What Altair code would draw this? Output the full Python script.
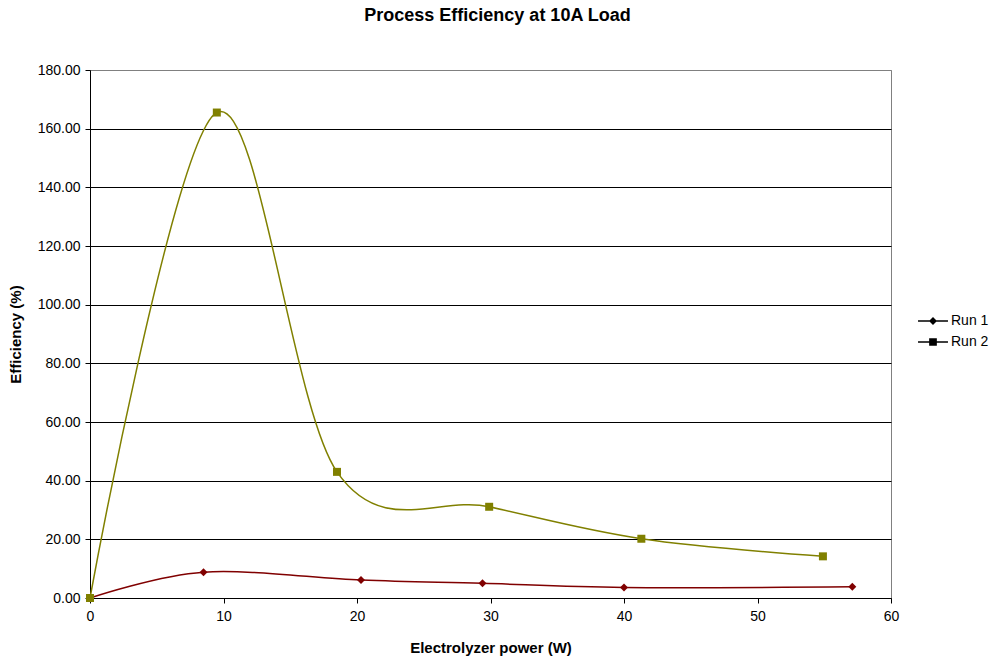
import altair as alt
import pandas as pd

series_names = ["Run 1", "Run 2"]
series_colors = ["#800000", "#808000"]

run1_x = [0, 8.5, 20.3, 29.4, 40.0, 57.1]
run1_y = [0, 8.8, 6.1, 5.0, 3.6, 3.8]
run2_x = [0, 9.5, 18.5, 29.9, 41.3, 54.9]
run2_y = [0, 165.5, 43.0, 31.1, 20.2, 14.2]

x_ticks = [0, 10, 20, 30, 40, 50, 60]
y_ticks = [0, 20, 40, 60, 80, 100, 120, 140, 160, 180]

rows = []
for i, (x, y) in enumerate(zip(run1_x, run1_y)):
    rows.append({"series": "Run 1", "power": x, "eff": y, "order": i})
for i, (x, y) in enumerate(zip(run2_x, run2_y)):
    rows.append({"series": "Run 2", "power": x, "eff": y, "order": i})
df = pd.DataFrame(rows)

FONT = "Liberation Sans"

xenc = alt.X("power:Q", scale=alt.Scale(domain=[0, 60], nice=False),
             axis=alt.Axis(values=x_ticks, format="d", title="Electrolyzer power (W)",
                           grid=False, domainColor="#000", tickColor="#000",
                           tickSize=5, labelPadding=6, titlePadding=17, labelFlush=False))
yenc = alt.Y("eff:Q", scale=alt.Scale(domain=[0, 180], nice=False),
             axis=alt.Axis(values=y_ticks, format=".2f", title="Efficiency (%)",
                           grid=True,
                           gridColor={"condition": {"test": "datum.value >= 180", "value": "#808080"},
                                      "value": "#000"},
                           gridOpacity=1, gridWidth=1,
                           domainColor="#000", tickColor="#000", tickSize=5,
                           labelPadding=5, titleX=-67, labelFlush=False))

color_scale = alt.Scale(domain=series_names, range=series_colors)

base = alt.Chart(df)

lines = base.mark_line(interpolate="cardinal", tension=0, strokeWidth=1.5).encode(
    x=xenc, y=yenc,
    color=alt.Color("series:N", scale=color_scale, legend=None),
    order="order:Q",
)

points = base.mark_point(filled=True, opacity=1, size=64).encode(
    x="power:Q", y="eff:Q",
    color=alt.Color("series:N", scale=color_scale, legend=None),
    shape=alt.Shape("series:N", scale=alt.Scale(domain=series_names, range=["diamond", "square"]), legend=None),
)

legend_paths = [
    "M-2.14,-0.1H2.14V0.1H-2.14Z M0,-0.57L0.57,0L0,0.57L-0.57,0Z",
    "M-2.14,-0.1H2.14V0.1H-2.14Z M-0.55,-0.55H0.55V0.55H-0.55Z",
]

leg = alt.Legend(title=None, orient="none", legendX=836, legendY=244,
                 symbolSize=196, symbolStrokeWidth=0, labelOffset=11,
                 rowPadding=7, labelFontSize=14, labelFont=FONT,
                 labelColor="#000", symbolOpacity=1)

legend_layer = base.transform_filter(alt.datum.eff < -1000).mark_point(filled=True).encode(
    x="power:Q", y="eff:Q",
    fill=alt.Fill("series:N", scale=alt.Scale(domain=series_names, range=series_colors), legend=leg),
    shape=alt.Shape("series:N", scale=alt.Scale(domain=series_names, range=legend_paths), legend=leg),
)

chart = alt.layer(lines, points, legend_layer).resolve_scale(
    shape="independent"
).properties(
    width=801, height=528,
    background="white",
    autosize=alt.AutoSizeParams(type="none"),
    padding={"left": 90, "top": 70, "right": 107, "bottom": 60},
    title=alt.TitleParams("Process Efficiency at 10A Load", font=FONT, fontSize=18,
                          fontWeight="bold", color="#000", anchor="middle", offset=38, dx=7),
).configure_view(
    stroke="#808080", strokeWidth=1
).configure_axis(
    labelFont=FONT, labelFontSize=14, labelColor="#000",
    titleFont=FONT, titleFontSize=15, titleFontWeight="bold", titleColor="#000",
)

chart.save("out.html", embed_options={"renderer": "svg", "actions": False})
